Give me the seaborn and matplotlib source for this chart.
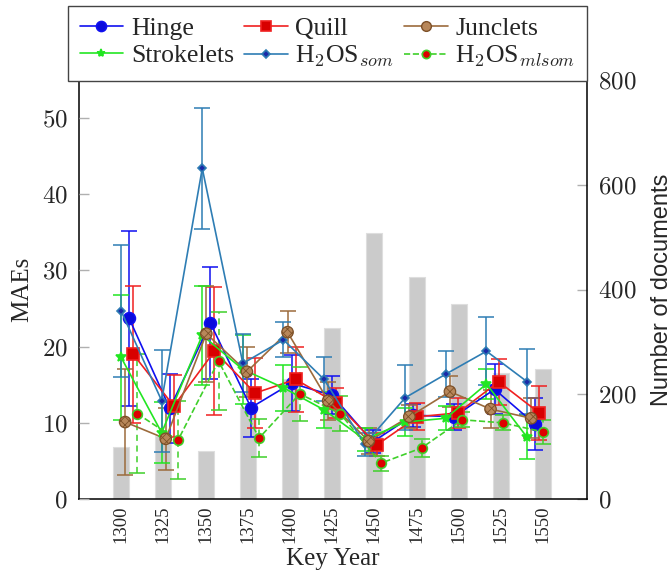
import numpy as np
import pandas as pd
import matplotlib
matplotlib.use("Agg")
import matplotlib.pyplot as plt
from matplotlib.lines import Line2D
from matplotlib.ticker import FuncFormatter, FixedLocator
import seaborn as sns

# ---------------- data ----------------
years = [1300, 1325, 1350, 1375, 1400, 1425, 1450, 1475, 1500, 1525, 1550]
docs = [100, 120, 91, 175, 230, 327, 508, 424, 372, 241, 249]

hinge = [23.7, 11.9, 23.1, 12.0, 15.2, 13.6, 7.5, 11.0, 10.8, 14.4, 9.8]
hinge_err = [11.5, 4.5, 7.3, 3.8, 3.7, 2.5, 1.5, 1.5, 1.7, 3.3, 3.4]

quill = [19.0, 12.2, 19.4, 13.9, 15.7, 12.6, 7.1, 10.8, 11.3, 15.4, 11.3]
quill_err = [9.0, 4.1, 8.4, 4.6, 4.3, 2.0, 1.5, 1.8, 2.0, 3.0, 3.5]

junclets = [10.1, 7.9, 21.7, 16.7, 21.9, 12.9, 7.6, 10.8, 14.1, 11.8, 10.6]
junclets_err = [7.0, 4.1, 6.3, 3.3, 2.8, 2.5, 1.7, 1.5, 2.0, 2.5, 2.6]

strokelets = [18.6, 8.7, 21.5, 17.0, 14.6, 11.7, 7.8, 10.1, 10.6, 15.1, 8.1]
strokelets_err = [8.2, 4.0, 6.5, 4.5, 3.0, 2.4, 1.5, 1.8, 1.6, 2.0, 2.9]

som = [24.7, 12.9, 43.4, 17.8, 20.9, 15.7, 7.2, 13.3, 16.4, 19.4, 15.4]
som_err = [8.7, 6.7, 7.9, 3.8, 2.3, 2.9, 1.5, 4.3, 3.0, 4.5, 4.3]

mlsom = [11.2, 7.7, 18.1, 8.0, 13.8, 11.2, 4.7, 6.7, 10.4, 10.0, 8.8]
mlsom_err = [7.8, 5.1, 6.4, 2.5, 3.5, 2.3, 1.0, 1.2, 1.0, 1.0, 1.6]

labels = ["Hinge", "Quill", "Junclets", "Strokelets",
          r"H$_2$OS$_{som}$", r"H$_2$OS$_{mlsom}$"]

# ---------------- style ----------------
sns.set_theme(style="white")
plt.rcParams["font.family"] = ["Liberation Serif", "DejaVu Serif"]
plt.rcParams["mathtext.fontset"] = "cm"
plt.rcParams["hatch.linewidth"] = 0.6
plt.rcParams["hatch.color"] = "#6e4220"

fig = plt.figure(figsize=(6.71, 5.72), dpi=100)
rect = [79 / 671, 1 - 499 / 572, 508 / 671, 419 / 572]
ax_bar = fig.add_axes(rect)
ax = fig.add_axes(rect)
ax.patch.set_visible(False)

# ---------------- bars (right axis) ----------------
bar_df = pd.DataFrame({"year": years, "docs": docs})
sns.barplot(data=bar_df, x="year", y="docs", ax=ax_bar, native_scale=True,
            width=0.38, color="#cbcbcb", saturation=1,
            edgecolor="#dedede", linewidth=0.8)
ax_bar.set_xlim(1275, 1576)
ax_bar.set_ylim(0, 800)
ax_bar.yaxis.tick_right()
ax_bar.yaxis.set_label_position("right")
ax_bar.yaxis.set_major_locator(FixedLocator([0, 200, 400, 600, 800]))
ax_bar.yaxis.set_major_formatter(FuncFormatter(lambda v, p: f"${v:g}$"))
ax_bar.set_xticks(years)
ax_bar.set_xticklabels([str(y) for y in years], rotation=90, fontsize=13.5)
ax_bar.tick_params(axis="x", length=0, pad=5)
ax_bar.tick_params(axis="y", direction="in", length=7, width=1,
                   color="#b0b0b0", labelsize=18, pad=8, right=True, left=False)
ax_bar.set_xlabel("Key Year", fontsize=18, labelpad=3)
ax_bar.set_ylabel("Number of documents", fontsize=17,
                  family=["Liberation Sans", "DejaVu Sans"], labelpad=10)
for s in ax_bar.spines.values():
    s.set_color("black")
    s.set_linewidth(1.1)

# ---------------- lines (left axis) ----------------
series = [
    # values, errors, offset, color, marker, ms, mfc, mec, ls
    (hinge, hinge_err, 5.0, "#1010f0", "o", 8.5, "#0a0adc", "#1010f0", "-"),
    (quill, quill_err, 7.5, "#f02020", "s", 8.0, "#d80000", "#f02020", "-"),
    (junclets, junclets_err, 2.5, "#9c6b3c", None, 0, None, None, "-"),
    (strokelets, strokelets_err, 0.0, "#22e622", "*", 7.0, "#22e622", "#22e622", "-"),
    (som, som_err, 0.0, "#2e7db4", "D", 4.5, "#1a2aa8", "#2e7db4", "-"),
    (mlsom, mlsom_err, 10.0, "#3fd02a", "o", 7.0, "#dd0000", "#3fd02a", "--"),
]

handles = []
for (vals, errs, off, col, mk, ms, mfc, mec, ls), lab in zip(series, labels):
    xs = [y + off for y in years]
    eb = ax.errorbar(xs, vals, yerr=errs, fmt="none", ecolor=col,
                     elinewidth=1.1, capsize=5.5, capthick=1.1, zorder=2)
    if ls == "--":
        for lc in eb[2]:
            lc.set_linestyle((0, (4, 3)))
    df = pd.DataFrame({"x": xs, "y": vals})
    kw = dict(color=col, linewidth=1.2, linestyle=ls, zorder=3)
    if mk is not None:
        kw.update(marker=mk, markersize=ms, markerfacecolor=mfc,
                  markeredgecolor=mec, markeredgewidth=1.2)
    sns.lineplot(data=df, x="x", y="y", ax=ax, sort=False, legend=False,
                 estimator=None, **kw)
    if mk is None:
        ax.scatter(xs, vals, s=68, marker="o", facecolor="#b8875a",
                   edgecolor="#7d5028", linewidths=0.9, hatch="xxxx", zorder=4)
        handles.append(Line2D([], [], color=col, lw=1.2, marker="o", ms=7,
                              markerfacecolor="#b8875a", markeredgecolor="#7d5028"))
    else:
        handles.append(Line2D([], [], color=col, lw=1.2, linestyle=ls, marker=mk,
                              ms=ms * 0.85, markerfacecolor=mfc,
                              markeredgecolor=mec, markeredgewidth=1.2))

ax.set_xlim(1274.1, 1586.9)
ax.set_ylim(0, 55)
ax.set_xticks([])
ax.set_xlabel("")
ax.yaxis.set_major_locator(FixedLocator([0, 10, 20, 30, 40, 50]))
ax.yaxis.set_major_formatter(FuncFormatter(lambda v, p: f"${v:g}$"))
ax.tick_params(axis="y", direction="in", length=7, width=1, color="#b0b0b0",
               labelsize=18, pad=8, left=True)
ax.set_ylabel("MAEs", fontsize=18, labelpad=6)
for s in ax.spines.values():
    s.set_visible(False)

# ---------------- legend ----------------
order = [0, 3, 1, 4, 2, 5]
leg = fig.legend([handles[i] for i in order], [labels[i] for i in order],
                 ncol=3, loc="lower left",
                 bbox_to_anchor=(68 / 671, 1 - 81 / 572, 519 / 671, 76 / 572),
                 mode="expand", frameon=True, fancybox=False, shadow=False,
                 edgecolor="#444444", framealpha=1, fontsize=18.5,
                 handlelength=1.7, handletextpad=0.3, columnspacing=0.2,
                 borderpad=0.45, labelspacing=0.15, borderaxespad=0)
leg.get_frame().set_linewidth(1.0)

fig.savefig("out.png", dpi=100)
